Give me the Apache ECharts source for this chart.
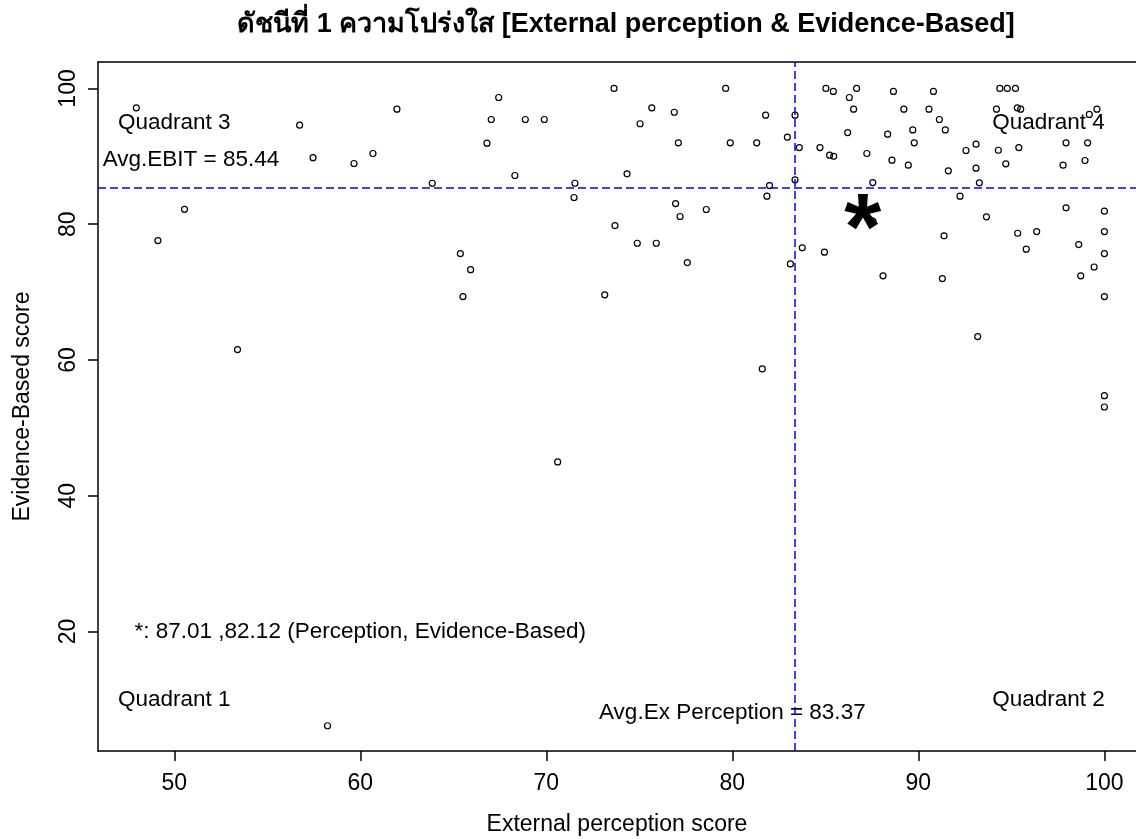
<!DOCTYPE html>
<html>
<head>
<meta charset="utf-8">
<script src="https://cdn.jsdelivr.net/npm/echarts@6/dist/echarts.min.js"></script>
<style>
  html, body { margin: 0; padding: 0; background: #fff; }
  #main { width: 1136px; height: 839px; }
</style>
</head>
<body>
<div id="main"></div>
<script>
var myChart = echarts.init(document.getElementById('main'));
const font = "'Liberation Sans', Arial, 'DejaVu Sans', sans-serif";

// scores
const extPerception = [
	47.96, 56.74, 57.46, 59.66, 50.55, 49.12,
	73.64, 67.44, 61.97, 67.04, 68.87, 69.89, 66.81, 60.68, 68.31, 63.87, 71.54, 71.49, 73.69, 65.38, 65.93, 65.52, 73.14,
	79.64, 75.67, 76.88, 75.04, 81.79, 83.37, 77.10, 79.89, 81.31, 82.96, 83.60, 84.71, 85.23, 85.45, 85.03, 85.43,
	86.68, 86.29, 86.52, 86.20, 87.23, 87.55, 74.34, 83.37, 82.00, 81.86, 76.95, 78.60, 77.19, 87.56, 74.89, 75.91,
	77.58, 83.76, 84.95, 83.12,
	88.66, 90.81, 94.38, 94.78, 95.22, 89.22, 90.57, 94.20, 95.32, 95.50, 99.60, 99.19, 91.13, 88.35, 89.70, 91.45,
	89.78, 93.10, 92.56, 94.30, 95.40, 97.94, 99.10, 88.58, 89.46, 91.61, 93.10, 94.70, 97.78, 98.96, 93.28, 92.24,
	97.94, 100, 93.66, 91.38, 95.34, 96.36, 100, 95.80, 98.62, 100, 99.45, 98.73, 88.10, 91.29, 100,
	53.40, 70.61, 58.24, 81.61, 93.19, 100, 100
];
const evidenceBased = [
	97.15, 94.60, 89.80, 88.95, 82.20, 77.60,
	100, 98.67, 96.95, 95.43, 95.43, 95.43, 91.94, 90.42, 87.18, 86.04, 86.04, 83.94, 79.80, 75.68, 73.30, 69.34, 69.60,
	100, 97.15, 96.50, 94.80, 96.07, 96.07, 92.00, 92.00, 92.00, 92.83, 91.30, 91.30, 90.17, 90.00, 100, 99.56,
	100, 98.67, 96.95, 93.50, 90.42, 86.14, 87.43, 86.54, 85.70, 84.13, 83.05, 82.17, 81.14, 80.45, 77.20, 77.20,
	74.35, 76.52, 75.88, 74.16,
	99.56, 99.56, 100, 100, 100, 96.95, 96.95, 96.95, 97.15, 96.95, 96.95, 96.17, 95.43, 93.27, 93.90, 93.90,
	92.00, 91.80, 90.86, 90.90, 91.30, 92.00, 92.00, 89.43, 88.70, 87.87, 88.26, 88.90, 88.70, 89.39, 86.10, 84.13,
	82.42, 81.92, 81.09, 78.30, 78.67, 78.92, 78.92, 76.32, 77.00, 75.68, 73.70, 72.40, 72.40, 72.00, 69.34,
	61.53, 44.98, 6.12, 58.68, 63.45, 54.75, 53.08
];

const avgPerception = 83.37;
const avgEbit = 85.44;
const starPoint = [87.01, 82.12];

const xTicks = [50, 60, 70, 80, 90, 100];
const yTicks = [20, 40, 60, 80, 100];

// annotation texts, placed in data coordinates
const noteTexts = ['Quadrant 3', 'Quadrant 4', 'Quadrant 1', 'Quadrant 2',
	'Avg.EBIT = 85.44', 'Avg.Ex Perception = 83.37', '*: 87.01 ,82.12 (Perception, Evidence-Based)'];
const noteX = [50, 97, 50, 97, 50.9, 80, 60];
const noteY = [95, 95, 10, 10, 89.44, 8, 20];

let points = extPerception.map((v, i) => [v, evidenceBased[i]]);
let notes = noteTexts.map((t, i) => ({ name: t, value: [noteX[i], noteY[i]] }));

const xMin = 45.9, xMax = 101.7;
const boxLine = { show: true, onZero: false, lineStyle: { color: '#000', width: 1.5 } };

option = {
	backgroundColor: '#fff',
	animation: false,
	textStyle: { fontFamily: font },
	title: {
		text: 'ดัชนีที่ 1 ความโปร่งใส [External perception & Evidence-Based]',
		left: 621,
		top: 6,
		textAlign: 'center',
		textStyle: {
			fontFamily: font,
			fontSize: 27,
			fontWeight: 'bold',
			color: '#000'
		}
	},
	grid: {
		left: 98,
		top: 62,
		right: 0,
		bottom: 88,
		show: false,
		containLabel: false,
		outerBoundsMode: 'none'
	},
	xAxis: [{
		type: 'value',
		min: xMin,
		max: xMax,
		name: 'External perception score',
		nameLocation: 'middle',
		nameGap: 62,
		nameTextStyle: { fontFamily: font, fontSize: 23, color: '#000' },
		axisLine: boxLine,
		axisTick: {
			show: true,
			length: 10,
			customValues: xTicks,
			lineStyle: { color: '#000', width: 1.5 }
		},
		axisLabel: {
			customValues: xTicks,
			fontFamily: font,
			fontSize: 23,
			color: '#000',
			margin: 21
		},
		splitLine: { show: false }
	}, {
		// top edge of the box
		type: 'value',
		position: 'top',
		min: xMin,
		max: xMax,
		axisLine: boxLine,
		axisTick: { show: false },
		axisLabel: { show: false },
		splitLine: { show: false }
	}],
	yAxis: {
		type: 'value',
		min: 2.4,
		max: 103.9,
		name: 'Evidence-Based score',
		nameLocation: 'middle',
		nameRotate: 90,
		nameGap: 64,
		nameTextStyle: { fontFamily: font, fontSize: 23, color: '#000' },
		axisLine: boxLine,
		axisTick: {
			show: true,
			length: 10,
			customValues: yTicks,
			lineStyle: { color: '#000', width: 1.5 }
		},
		axisLabel: {
			customValues: yTicks,
			rotate: 90,
			fontFamily: font,
			fontSize: 23,
			color: '#000',
			margin: 18
		},
		splitLine: { show: false }
	},
	series: [{
		name: 'schools',
		type: 'scatter',
		symbol: 'circle',
		symbolSize: 6,
		silent: true,
		itemStyle: {
			color: 'rgba(0,0,0,0)',
			borderColor: '#000',
			borderWidth: 1.2,
			opacity: 1
		},
		markLine: {
			silent: true,
			symbol: ['none', 'none'],
			label: { show: false },
			lineStyle: { color: '#0000ff', type: [8, 4], width: 1.5, opacity: 1 },
			data: [{ yAxis: avgEbit }, { xAxis: avgPerception }]
		},
		data: points
	}, {
		name: 'star',
		type: 'scatter',
		symbolSize: 0,
		silent: true,
		itemStyle: { opacity: 1 },
		label: {
			show: true,
			position: 'inside',
			formatter: '*',
			fontFamily: font,
			fontSize: 95,
			fontWeight: 'bold',
			color: '#000',
			offset: [0, 23]
		},
		data: [starPoint]
	}, {
		name: 'notes',
		type: 'scatter',
		symbolSize: 0,
		silent: true,
		itemStyle: { opacity: 1 },
		label: {
			show: true,
			position: 'inside',
			formatter: '{b}',
			fontFamily: font,
			fontSize: 22.5,
			color: '#000'
		},
		data: notes
	}]
};
myChart.setOption(option);
</script>
</body>
</html>
